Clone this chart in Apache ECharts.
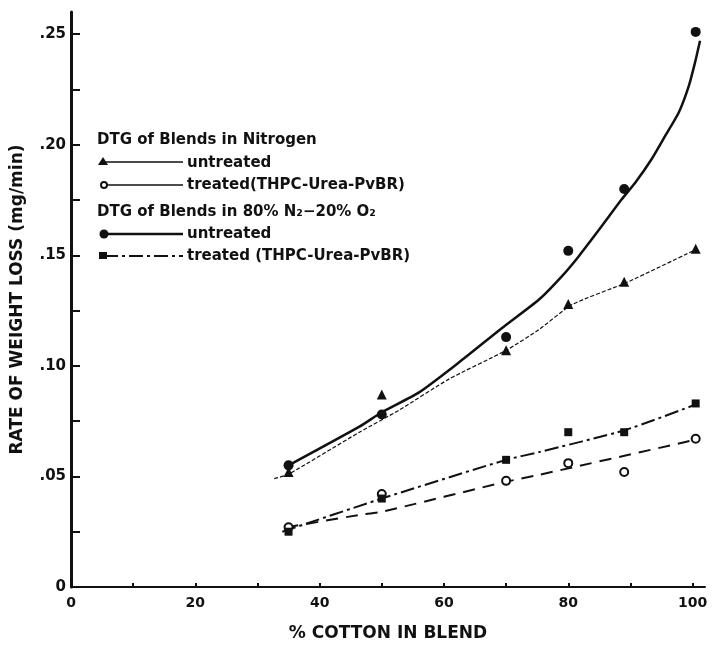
<!DOCTYPE html>
<html>
<head>
<meta charset="utf-8">
<script src="https://cdn.jsdelivr.net/npm/echarts@6/dist/echarts.min.js"></script>
<style>
  html, body { margin: 0; padding: 0; background: #fff; }
  #main { width: 716px; height: 647px; }
</style>
</head>
<body>
<div id="main"></div>
<script>
let myChart = echarts.init(document.getElementById('main'));

// measured points (% cotton)
let cotton = [35, 50, 70, 80, 89, 100.5];
let n2Untreated = [0.052, 0.087, 0.107, 0.128, 0.138, 0.153];   // triangles
let n2Treated = [0.027, 0.042, 0.048, 0.056, 0.052, 0.067];     // open circles
let o2Untreated = [0.055, 0.078, 0.113, 0.152, 0.180, 0.251];   // filled circles
let o2Treated = [0.025, 0.040, 0.0575, 0.070, 0.070, 0.083];    // squares

// fitted curves
let fitO2UntreatedX = [35, 46.4, 50, 56, 62.4, 69.3, 75.3, 79, 81.7, 85.4, 88.6, 90.8, 93.4, 95.6, 97.8, 99.4, 100.4, 101.2];
let fitO2UntreatedY = [0.055, 0.0725, 0.079, 0.088, 0.1015, 0.117, 0.130, 0.1406, 0.1496, 0.1632, 0.1753, 0.1829, 0.1934, 0.204, 0.2147, 0.2266, 0.2372, 0.247];
let fitN2UntreatedX = [32.7, 35, 46.4, 52.8, 60.8, 70, 75.3, 80.6, 89.4, 100.6];
let fitN2UntreatedY = [0.049, 0.051, 0.070, 0.080, 0.094, 0.107, 0.1164, 0.1277, 0.1377, 0.1527];
let fitO2TreatedX = [34, 50, 70, 75.3, 89.2, 100];
let fitO2TreatedY = [0.025, 0.040, 0.0575, 0.061, 0.071, 0.082];
let fitN2TreatedX = [34.7, 46.4, 50, 70, 75.3, 100.5];
let fitN2TreatedY = [0.027, 0.0326, 0.034, 0.0476, 0.0507, 0.0666];

// axis ticks / labels
let xTicks = [0, 10, 20, 30, 40, 50, 60, 70, 80, 90, 100];
let xLabels = [0, 20, 40, 60, 80, 100];
let yTicks = [0, 0.025, 0.05, 0.075, 0.1, 0.125, 0.15, 0.175, 0.2, 0.225, 0.25];
let yLabels = [0, 0.05, 0.1, 0.15, 0.2, 0.25];

const INK = '#111';
const FONT = 'DejaVu Sans';

function pairs(xs, ys) {
    return xs.map((x, i) => [x, ys[i]]);
}

function fitLine(xs, ys, width, dash) {
    return {
        type: 'line',
        data: pairs(xs, ys),
        showSymbol: false,
        smooth: 0.2,
        lineStyle: { color: INK, width: width, type: dash },
        z: 2
    };
}

function points(ys, symbol, size, fill) {
    return {
        type: 'scatter',
        data: pairs(cotton, ys),
        symbol: symbol,
        symbolSize: size,
        itemStyle: { color: fill, opacity: 1, borderColor: INK, borderWidth: fill === '#fff' ? 2 : 0 },
        z: 3
    };
}

// legend drawn by hand (two headed groups)
let lg = { x0: 97, xLine0: 104, xLine1: 183, xText: 187 };
let legendText = (txt, x, y) => ({
    type: 'text', left: x, top: y - 7,
    style: { text: txt, font: 'bold 15px "DejaVu Sans"', fill: INK }
});
let legendLine = (y, width, dash) => ({
    type: 'line',
    shape: { x1: lg.xLine0, y1: y, x2: lg.xLine1, y2: y },
    style: { stroke: INK, lineWidth: width, lineDash: dash }
});

let graphic = [
    legendText('DTG of Blends in Nitrogen', lg.x0, 140),
    legendLine(162, 1.3, null),
    { type: 'polygon', shape: { points: [[103, 157], [98, 165], [108, 165]] }, style: { fill: INK } },
    legendText('untreated', lg.xText, 163),
    legendLine(185, 1.3, null),
    { type: 'circle', shape: { cx: 104, cy: 185, r: 3 }, style: { fill: '#fff', stroke: INK, lineWidth: 2 } },
    legendText('treated(THPC-Urea-PvBR)', lg.xText, 185),
    legendText('DTG of Blends in 80% N₂−20% O₂', lg.x0, 212),
    legendLine(234, 2.5, null),
    { type: 'circle', shape: { cx: 104, cy: 234, r: 4.5 }, style: { fill: INK } },
    legendText('untreated', lg.xText, 234),
    legendLine(256, 2, [14, 4, 3, 4]),
    { type: 'rect', shape: { x: 99, y: 252, width: 8, height: 7 }, style: { fill: INK } },
    legendText('treated (THPC-Urea-PvBR)', lg.xText, 256)
];

let option = {
    animation: false,
    backgroundColor: '#fff',
    textStyle: { fontFamily: FONT },
    grid: { left: 71, right: 11, top: 12, bottom: 60 },
    xAxis: {
        type: 'value',
        min: 0,
        max: 102,
        name: '% COTTON IN BLEND',
        nameLocation: 'middle',
        nameGap: 38,
        nameTextStyle: { fontSize: 17, fontWeight: 'bold', color: INK, fontFamily: FONT },
        axisLine: { show: true, lineStyle: { color: INK, width: 2 } },
        axisTick: { show: true, inside: true, length: 4, customValues: xTicks, lineStyle: { color: INK, width: 2 } },
        axisLabel: { customValues: xLabels, fontSize: 14, fontWeight: 'bold', color: INK, margin: 9 },
        splitLine: { show: false }
    },
    yAxis: {
        type: 'value',
        min: 0,
        max: 0.26,
        name: 'RATE OF WEIGHT LOSS (mg/min)',
        nameLocation: 'middle',
        nameGap: 45,
        nameTextStyle: { fontSize: 17, fontWeight: 'bold', color: INK, fontFamily: FONT },
        axisLine: { show: true, lineStyle: { color: INK, width: 3 } },
        axisTick: { show: true, inside: true, length: 9, customValues: yTicks, lineStyle: { color: INK, width: 2 } },
        axisLabel: {
            customValues: yLabels,
            fontSize: 15,
            fontWeight: 'bold',
            color: INK,
            margin: 5,
            formatter: v => v === 0 ? '0' : '.' + String(Math.round(v * 100)).padStart(2, '0')
        },
        splitLine: { show: false }
    },
    graphic: graphic,
    series: [
        fitLine(fitO2UntreatedX, fitO2UntreatedY, 2.5, 'solid'),
        fitLine(fitN2UntreatedX, fitN2UntreatedY, 1.2, [4, 2]),
        fitLine(fitO2TreatedX, fitO2TreatedY, 2, [14, 4, 3, 4]),
        fitLine(fitN2TreatedX, fitN2TreatedY, 2, [12, 8]),
        points(n2Untreated, 'triangle', 10, INK),
        points(n2Treated, 'circle', 8, '#fff'),
        points(o2Untreated, 'circle', 10, INK),
        points(o2Treated, 'rect', 8, INK)
    ]
};

myChart.setOption(option);
</script>
</body>
</html>
